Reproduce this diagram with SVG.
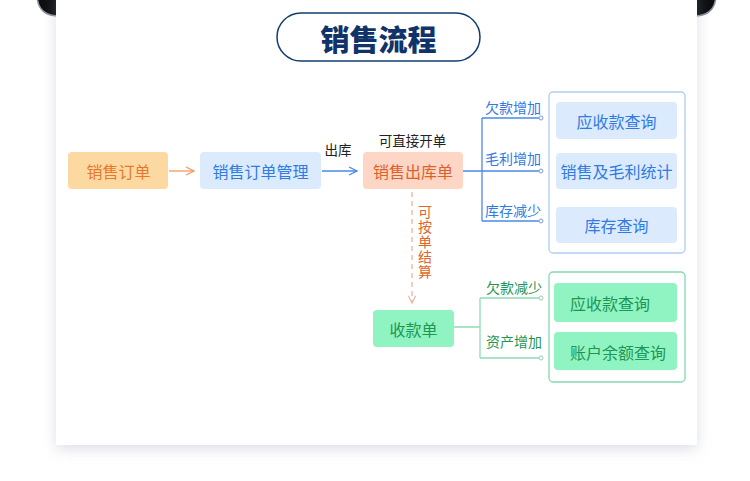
<svg xmlns="http://www.w3.org/2000/svg" width="750" height="481" viewBox="0 0 750 481">
<style>
text{font-family:"Noto Sans CJK SC","Noto Sans",sans-serif;dominant-baseline:central;text-anchor:middle}
.n{font-size:16px}
.l{font-size:14px}
.lb{font-size:13.5px;fill:#222}
.or{fill:#e8772c}
.bl{fill:#2f7be3}
.gr{fill:#1d9654}
.bbox{fill:#dceafd}
.gbox{fill:#90f3c2}
.bc{stroke:#4a89e6;stroke-width:1.3;fill:none}
.gc{stroke:#8fdcb4;stroke-width:1.3;fill:none}
.dotb{fill:#fff;stroke:#7d9fd0;stroke-width:1}
.dotg{fill:#fff;stroke:#9dcfb5;stroke-width:1}
</style>
<defs>
<filter id="sh" x="-10%" y="-10%" width="120%" height="125%">
<feDropShadow dx="0" dy="4" stdDeviation="7" flood-color="#9aa3b8" flood-opacity="0.35"/>
</filter>
<marker id="ao" viewBox="0 0 10 10" refX="9" refY="5" markerWidth="10" markerHeight="10" markerUnits="userSpaceOnUse" orient="auto">
<path d="M1,1 L9,5 L1,9" fill="none" stroke="#ee9a66" stroke-width="1.3"/>
</marker>
<marker id="ab" viewBox="0 0 10 10" refX="9" refY="5" markerWidth="10" markerHeight="10" markerUnits="userSpaceOnUse" orient="auto">
<path d="M1,1 L9,5 L1,9" fill="none" stroke="#4a89e6" stroke-width="1.3"/>
</marker>
<marker id="ad" viewBox="0 0 10 10" refX="9" refY="5" markerWidth="9" markerHeight="9" markerUnits="userSpaceOnUse" orient="auto">
<path d="M1,1 L9,5 L1,9" fill="none" stroke="#eeb2a2" stroke-width="1.3"/>
</marker>
</defs>
<rect x="0" y="0" width="750" height="481" fill="#ffffff"/>
<path d="M37,-10 L37,-6 Q37,16 59,16 L694,16 Q716,16 716,-6 L716,-10 Z" fill="#0d0d10" stroke="#8d90a0" stroke-width="1.5"/>
<rect x="56" y="-10" width="641" height="455" fill="#ffffff" filter="url(#sh)"/>

<g id="title">
<rect x="277" y="13" width="203" height="48" rx="24" fill="#fff" stroke="#103d70" stroke-width="1.5"/>
<text x="378.5" y="38" style="font-size:29px;font-weight:900;fill:#10336a">销售流程</text>
</g>

<g id="connectors">
<line x1="169" y1="171" x2="194" y2="171" stroke="#ee9a66" stroke-width="1.3" marker-end="url(#ao)"/>
<line x1="322" y1="171" x2="357" y2="171" class="bc" marker-end="url(#ab)"/>
<text x="338" y="149" class="lb">出库</text>
<text x="412.5" y="140" class="lb">可直接开单</text>
<path d="M463,171 H482 M482,118 V221 M482,118 H539 M482,171 H539 M482,221 H539" class="bc"/>
<circle cx="541" cy="118" r="2" class="dotb"/>
<circle cx="541" cy="171" r="2" class="dotb"/>
<circle cx="541" cy="221" r="2" class="dotb"/>
<text x="513" y="107" class="l bl">欠款增加</text>
<text x="513" y="158" class="l bl">毛利增加</text>
<text x="513" y="210" class="l bl">库存减少</text>
<line x1="412" y1="192" x2="412" y2="303" stroke="#eeb2a2" stroke-width="1.3" stroke-dasharray="5,4" marker-end="url(#ad)"/>
<text x="425" y="242" writing-mode="vertical-rl" letter-spacing="1" class="l" style="fill:#e0652a">可按单结算</text>
<path d="M454,327 H480 M480,298 V358 M480,298 H539 M480,358 H539" class="gc"/>
<circle cx="541" cy="298" r="2" class="dotg"/>
<circle cx="541" cy="358" r="2" class="dotg"/>
<text x="514" y="287" class="l gr">欠款减少</text>
<text x="514" y="341" class="l gr">资产增加</text>
</g>

<g id="node-xsdd">
<rect x="68" y="152" width="100" height="37" rx="4" fill="#fdd9a2"/>
<text x="118.5" y="171" class="n" style="fill:#e8772c">销售订单</text>
</g>
<g id="node-xsddgl">
<rect x="200" y="152" width="121" height="37" rx="4" class="bbox"/>
<text x="260.5" y="171" class="n bl">销售订单管理</text>
</g>
<g id="node-xsckd">
<rect x="363" y="152" width="100" height="37" rx="4" fill="#fdd6c6"/>
<text x="413" y="171" class="n" style="fill:#e0602a">销售出库单</text>
</g>
<g id="group-blue">
<rect x="549" y="92" width="136" height="161" rx="4" fill="#fff" stroke="#b0cdf2" stroke-width="1.3"/>
</g>
<g id="node-yskcx">
<rect x="556" y="102" width="121" height="37" rx="4" class="bbox"/>
<text x="616.5" y="121" class="n bl">应收款查询</text>
</g>
<g id="node-xsjmltj">
<rect x="556" y="153" width="121" height="36" rx="4" class="bbox"/>
<text x="616.5" y="171" class="n bl">销售及毛利统计</text>
</g>
<g id="node-kccx">
<rect x="556" y="207" width="121" height="36" rx="4" class="bbox"/>
<text x="616.5" y="225" class="n bl">库存查询</text>
</g>
<g id="node-skd">
<rect x="373" y="310" width="81" height="37" rx="4" class="gbox"/>
<text x="413.5" y="328.5" class="n gr">收款单</text>
</g>
<g id="group-green">
<rect x="549" y="272" width="136" height="110" rx="4" fill="#fff" stroke="#86d8ae" stroke-width="1.3"/>
</g>
<g id="node-yskcx2">
<rect x="554" y="283" width="123" height="39" rx="4" class="gbox"/>
<text x="610" y="302.5" class="n gr">应收款查询</text>
</g>
<g id="node-zhyecx">
<rect x="554" y="332" width="123" height="38" rx="4" class="gbox"/>
<text x="618" y="351.5" class="n gr">账户余额查询</text>
</g>
</svg>
